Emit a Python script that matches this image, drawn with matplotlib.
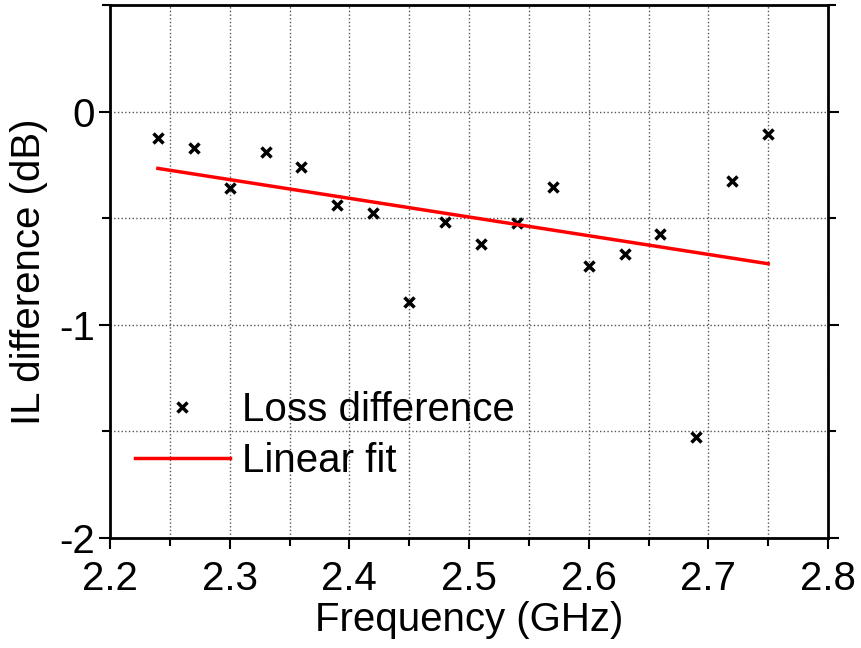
import numpy as np
import matplotlib.pyplot as plt
from matplotlib.ticker import MultipleLocator

freq = [2.24, 2.27, 2.30, 2.33, 2.36, 2.39, 2.42, 2.45, 2.48,
        2.51, 2.54, 2.57, 2.60, 2.63, 2.66, 2.69, 2.72, 2.75]
loss_diff = [-0.122, -0.169, -0.357, -0.188, -0.258, -0.437, -0.474, -0.892, -0.516,
             -0.620, -0.521, -0.352, -0.723, -0.667, -0.573, -1.526, -0.324, -0.103]

plt.rcParams['font.family'] = ['Liberation Sans', 'DejaVu Sans']

fig = plt.figure(figsize=(8.61, 6.48), dpi=100)
ax = fig.add_axes([0.1278, 0.1698, 0.8339, 0.8225])

# linear fit of the measured points
coef = np.polyfit(freq, loss_diff, 1)
fx = np.array([freq[0], freq[-1]])
fy = np.polyval(coef, fx)

ax.plot(freq, loss_diff, linestyle='none', marker='x', markersize=7,
        markeredgewidth=2.5, color='black', label='Loss difference')
ax.plot(fx, fy, color='red', linewidth=2.5, label='Linear fit')

ax.set_xlim(2.2, 2.8)
ax.set_ylim(-2, 0.5)
ax.xaxis.set_major_locator(MultipleLocator(0.1))
ax.xaxis.set_minor_locator(MultipleLocator(0.05))
ax.yaxis.set_minor_locator(MultipleLocator(0.5))
ax.set_yticks([-2, -1, 0])
ax.set_yticklabels(['-2', '-1', '0'])

ax.grid(True, which='both', linestyle=':', color='#555555', linewidth=1)
ax.set_axisbelow(True)

ax.tick_params(axis='both', which='major', length=8, width=1.5, labelsize=29, pad=3)
ax.tick_params(axis='x', which='major', pad=8)
ax.tick_params(axis='both', which='minor', length=6, width=1.5)
ax.tick_params(right=True, which='both', direction='in')
ax.tick_params(left=True, bottom=True, which='both', direction='out')
for s in ax.spines.values():
    s.set_linewidth(2)

ax.set_xlabel('Frequency (GHz)', fontsize=29, labelpad=2)
ax.set_ylabel('IL difference (dB)', fontsize=29, labelpad=8)

ax.legend(loc='upper left', bbox_to_anchor=(0.035, 0.275), frameon=False,
          fontsize=29, handlelength=2.35, handletextpad=0.3, labelspacing=0.32,
          borderaxespad=0, borderpad=0)

plt.savefig('out.png', dpi=100)
